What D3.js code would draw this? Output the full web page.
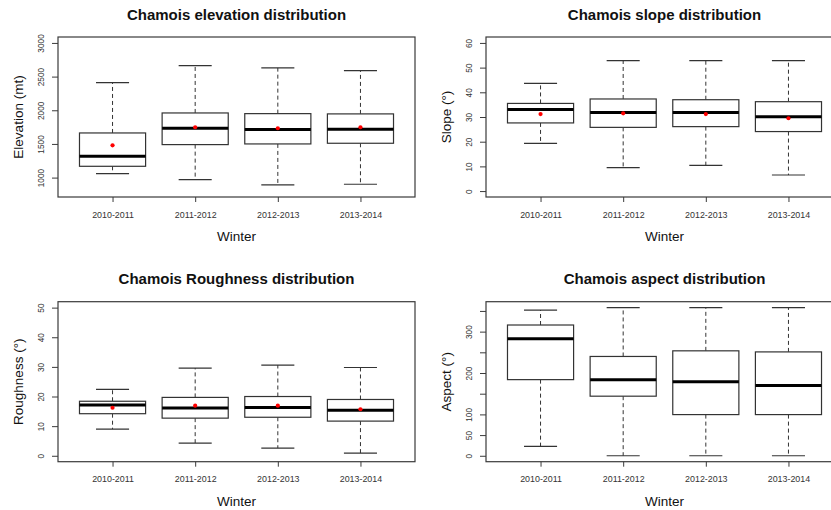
<!DOCTYPE html>
<html><head><meta charset="utf-8">
<script src="https://cdn.jsdelivr.net/npm/d3@7"></script>
<style>
body{margin:0;background:#fff}
svg{display:block;font-family:"Liberation Sans",Arial,Helvetica,sans-serif}
</style></head><body>
<svg id="chart" width="831" height="510"></svg>
<script>
const winters = ["2010-2011", "2011-2012", "2012-2013", "2013-2014"];

// Five-number summaries per winter: [lower whisker, Q1, median, Q3, upper whisker]
const elevationStats = [
  [1059, 1168, 1317, 1663, 2411],
  [970, 1490, 1733, 1960, 2663],
  [891, 1500, 1713, 1950, 2629],
  [901, 1510, 1718, 1946, 2589]
];
const elevationMeans = [1480, 1748, 1733, 1748];
const elevationTicks = [1000, 1500, 2000, 2500, 3000];

const slopeStats = [
  [19.3, 27.6, 33.0, 35.5, 43.6],
  [9.5, 25.8, 31.8, 37.3, 52.8],
  [10.4, 26.1, 31.8, 37.0, 52.8],
  [6.5, 24.1, 30.1, 36.2, 52.8]
];
const slopeMeans = [31.2, 31.5, 31.2, 29.5];
const slopeTicks = [0, 10, 20, 30, 40, 50, 60];

const roughnessStats = [
  [9.0, 14.2, 17.1, 18.4, 22.4],
  [4.3, 12.7, 16.1, 19.7, 29.6],
  [2.6, 13.0, 16.3, 20.0, 30.6],
  [0.9, 11.7, 15.4, 19.0, 29.8]
];
const roughnessMeans = [16.2, 16.9, 16.9, 15.7];
const roughnessTicks = [0, 10, 20, 30, 40, 50];

const aspectStats = [
  [22.5, 184, 283, 316, 352],
  [0, 144, 184, 240, 358],
  [0, 99.5, 179, 253.6, 358],
  [0, 99.5, 170, 251, 358]
];
const aspectTicks = [0, 50, 100, 150, 200, 250, 300, 350];
const aspectTickLabels = ["0", "50", "100", "", "200", "", "300", ""];

// Panel definitions built from the arrays above
const panels = [
  {title: "Chamois elevation distribution", ylab: "Elevation (mt)", stats: elevationStats,
   means: elevationMeans, ticks: elevationTicks, labels: elevationTicks.map(String),
   ylim: [800, 3000], col: 0, row: 0},
  {title: "Chamois slope distribution", ylab: "Slope (°)", stats: slopeStats,
   means: slopeMeans, ticks: slopeTicks, labels: slopeTicks.map(String),
   ylim: [0, 60], col: 1, row: 0},
  {title: "Chamois Roughness distribution", ylab: "Roughness (°)", stats: roughnessStats,
   means: roughnessMeans, ticks: roughnessTicks, labels: roughnessTicks.map(String),
   ylim: [0, 50], col: 0, row: 1},
  {title: "Chamois aspect distribution", ylab: "Aspect (°)", stats: aspectStats,
   means: null, ticks: aspectTicks, labels: aspectTickLabels,
   ylim: [d3.min(aspectStats, d => d[0]), d3.max(aspectStats, d => d[4])], col: 1, row: 1}
];

const svg = d3.select("#chart");
const colW = 428, rowH = 264.7;
const plotL = 58, plotR = 415, plotT = 37, plotB = 197;
const frameColor = "#3a3a3a";

panels.forEach(p => {
  const g = svg.append("g")
    .attr("transform", `translate(${p.col * colW},${p.row * rowH})`);

  // 4% padding on both axes, as in the usual boxplot layout
  const ypad = (p.ylim[1] - p.ylim[0]) * 0.04;
  const y = d3.scaleLinear().domain([p.ylim[0] - ypad, p.ylim[1] + ypad]).range([plotB, plotT]);
  const x = d3.scaleLinear().domain([0.5 - 0.16, winters.length + 0.5 + 0.16]).range([plotL, plotR]);
  const ux = x(1) - x(0);

  // title
  g.append("text")
    .attr("x", (plotL + plotR) / 2).attr("y", 19.5)
    .attr("text-anchor", "middle")
    .attr("font-size", 15).attr("font-weight", "bold").attr("fill", "#111")
    .text(p.title);

  // y axis
  const ya = g.append("g").attr("transform", `translate(${plotL},0)`)
    .call(d3.axisLeft(y).tickValues(p.ticks).tickSize(6)
      .tickFormat((d, i) => p.labels[i]));
  ya.select(".domain").remove();
  ya.selectAll(".tick line").attr("stroke", frameColor);
  ya.selectAll(".tick text")
    .attr("x", 0).attr("dy", null).attr("y", -13.7)
    .attr("transform", "rotate(-90)")
    .attr("text-anchor", "middle")
    .attr("font-size", 8.3).attr("fill", "#333")
    .attr("font-family", "Liberation Sans, Arial, sans-serif");

  // x axis
  const xa = g.append("g").attr("transform", `translate(0,${plotB})`)
    .call(d3.axisBottom(x).tickValues(d3.range(1, winters.length + 1)).tickSize(5)
      .tickFormat(i => winters[i - 1]));
  xa.select(".domain").remove();
  xa.selectAll(".tick line").attr("stroke", frameColor);
  xa.selectAll(".tick text")
    .attr("dy", null).attr("y", 20.5)
    .attr("font-size", 8.9).attr("fill", "#333")
    .attr("font-family", "Liberation Sans, Arial, sans-serif");

  // axis titles
  g.append("text")
    .attr("x", (plotL + plotR) / 2).attr("y", 241)
    .attr("text-anchor", "middle").attr("font-size", 13.5).attr("fill", "#111")
    .text("Winter");
  g.append("text")
    .attr("transform", `translate(23,${(plotT + plotB) / 2}) rotate(-90)`)
    .attr("text-anchor", "middle").attr("font-size", 13.5).attr("fill", "#111")
    .text(p.ylab);

  // boxes
  const box = g.selectAll(".box").data(p.stats).join("g").attr("class", "box");
  box.append("line")
    .attr("x1", (d, i) => x(i + 1)).attr("x2", (d, i) => x(i + 1))
    .attr("y1", d => y(d[3])).attr("y2", d => y(d[4]))
    .attr("stroke", "#333").attr("stroke-dasharray", "4,3");
  box.append("line")
    .attr("x1", (d, i) => x(i + 1)).attr("x2", (d, i) => x(i + 1))
    .attr("y1", d => y(d[1])).attr("y2", d => y(d[0]))
    .attr("stroke", "#333").attr("stroke-dasharray", "4,3");
  [0, 4].forEach(k => {
    box.append("line")
      .attr("x1", (d, i) => x(i + 1) - 0.2 * ux).attr("x2", (d, i) => x(i + 1) + 0.2 * ux)
      .attr("y1", d => y(d[k])).attr("y2", d => y(d[k]))
      .attr("stroke", "#333").attr("stroke-width", 1.2);
  });
  box.append("rect")
    .attr("x", (d, i) => x(i + 1) - 0.4 * ux).attr("width", 0.8 * ux)
    .attr("y", d => y(d[3])).attr("height", d => y(d[1]) - y(d[3]))
    .attr("fill", "#fff").attr("stroke", "#333").attr("stroke-width", 1.2);
  box.append("line")
    .attr("x1", (d, i) => x(i + 1) - 0.4 * ux).attr("x2", (d, i) => x(i + 1) + 0.4 * ux)
    .attr("y1", d => y(d[2])).attr("y2", d => y(d[2]))
    .attr("stroke", "#000").attr("stroke-width", 3);

  // means
  if (p.means) {
    g.selectAll(".mean").data(p.means).join("circle").attr("class", "mean")
      .attr("cx", (d, i) => x(i + 1)).attr("cy", d => y(d))
      .attr("r", 2.1).attr("fill", "#f00");
  }

  // frame
  g.append("rect")
    .attr("x", plotL).attr("y", plotT)
    .attr("width", plotR - plotL).attr("height", plotB - plotT)
    .attr("fill", "none").attr("stroke", frameColor).attr("stroke-width", 1.2);
});
</script>
</body></html>
